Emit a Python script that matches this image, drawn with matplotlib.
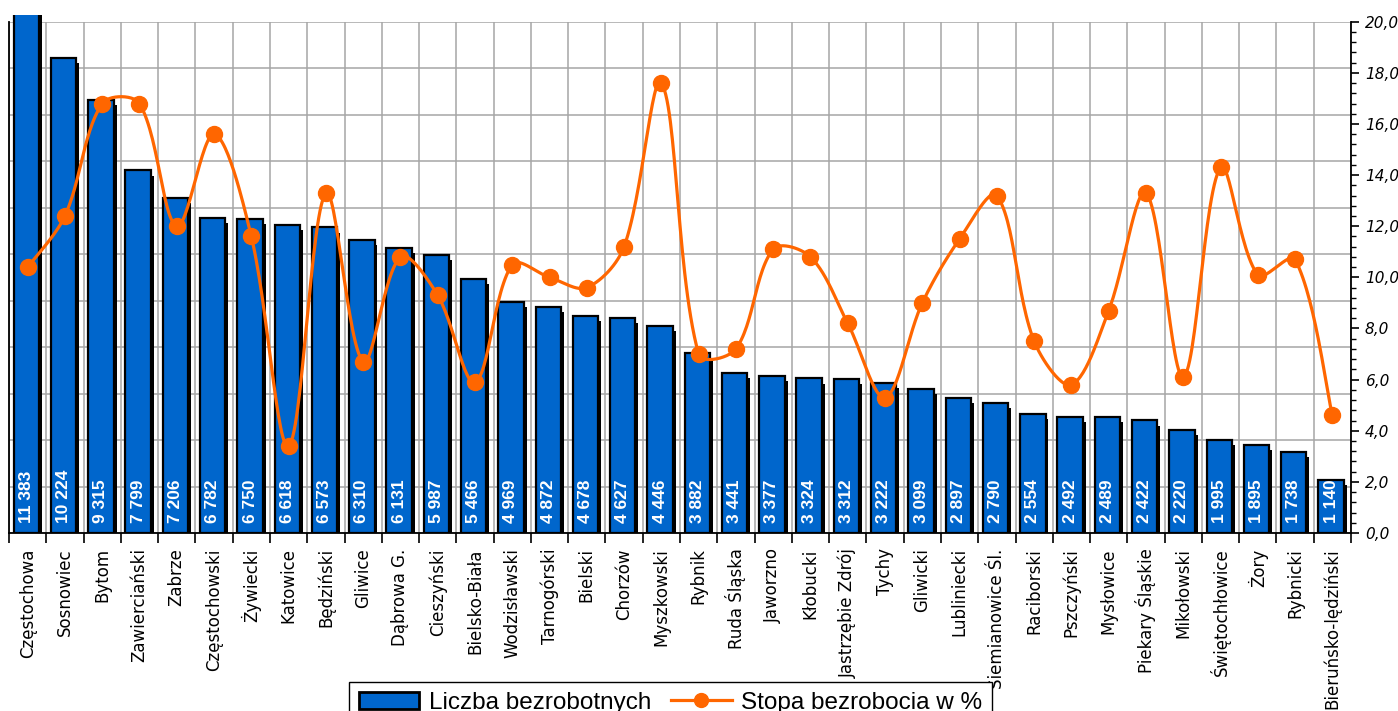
import matplotlib
matplotlib.use("Agg")
import matplotlib.pyplot as plt
from matplotlib.patches import Rectangle, Patch
from matplotlib.lines import Line2D
from matplotlib.ticker import MultipleLocator, FuncFormatter
import numpy as np

# dane: powiaty / miasta, liczba bezrobotnych, stopa bezrobocia w %
powiaty = ["Częstochowa", "Sosnowiec", "Bytom", "Zawierciański", "Zabrze",
           "Częstochowski", "Żywiecki", "Katowice", "Będziński", "Gliwice",
           "Dąbrowa G.", "Cieszyński", "Bielsko-Biała", "Wodzisławski",
           "Tarnogórski", "Bielski", "Chorzów", "Myszkowski", "Rybnik",
           "Ruda Śląska", "Jaworzno", "Kłobucki", "Jastrzębie Zdrój", "Tychy",
           "Gliwicki", "Lubliniecki", "Siemianowice Śl.", "Raciborski",
           "Pszczyński", "Mysłowice", "Piekary Śląskie", "Mikołowski",
           "Świętochłowice", "Żory", "Rybnicki", "Bieruńsko-lędziński"]
bezrobotni = [11383, 10224, 9315, 7799, 7206, 6782, 6750, 6618, 6573, 6310,
              6131, 5987, 5466, 4969, 4872, 4678, 4627, 4446, 3882, 3441,
              3377, 3324, 3312, 3222, 3099, 2897, 2790, 2554, 2492, 2489,
              2422, 2220, 1995, 1895, 1738, 1140]
stopa = [10.4, 12.4, 16.8, 16.8, 12.0, 15.6, 11.6, 3.4, 13.3, 6.7,
         10.8, 9.3, 5.9, 10.5, 10.0, 9.6, 11.2, 17.6, 7.0, 7.2,
         11.1, 10.8, 8.2, 5.3, 9.0, 11.5, 13.2, 7.5, 5.8, 8.7,
         13.3, 6.1, 14.3, 10.1, 10.7, 4.6]

BLUE = "#0066CC"
ORANGE = "#FF6600"


def smooth(xs, ys, sx, sy, n=30):
    # wygladzona linia w stylu Excela: Bezier, styczne skalowane dlugoscia odcinkow
    # sx, sy - piksele na jednostke (zeby liczyc odleglosci na ekranie)
    P = np.column_stack([np.asarray(xs, float) * sx, np.asarray(ys, float) * sy])
    m = len(P)
    d = np.hypot(*(P[1:] - P[:-1]).T)
    out = []
    t = np.linspace(0, 1, n)[:, None]
    for i in range(m - 1):
        p0, p3 = P[i], P[i + 1]
        if i == 0:
            c1 = p0 + (p3 - p0) / 6.0
        else:
            T = P[i + 1] - P[i - 1]
            c1 = p0 + T * d[i] / (d[i - 1] + d[i]) / 3.0
        if i + 2 >= m:
            c2 = p3 - (p3 - p0) / 6.0
        else:
            T = P[i + 2] - P[i]
            c2 = p3 - T * d[i] / (d[i] + d[i + 1]) / 3.0
        seg = (1 - t) ** 3 * p0 + 3 * (1 - t) ** 2 * t * c1 \
            + 3 * (1 - t) * t ** 2 * c2 + t ** 3 * p3
        out.append(seg)
    out = np.vstack(out)
    return out[:, 0] / sx, out[:, 1] / sy


fig = plt.figure(figsize=(13.98, 7.11), dpi=100)
ax = fig.add_axes([9 / 1398, 1 - 533 / 711, (1351 - 9) / 1398, (533 - 21.7) / 711])
ax2 = ax.twinx()

x = np.arange(len(powiaty))
n = len(powiaty)

# cien slupkow
shadow = ax.bar(x + 0.045, [v - 110 for v in bezrobotni], width=0.68,
                color="black", edgecolor="black", linewidth=0, zorder=2)
bars = ax.bar(x - 0.035, bezrobotni, width=0.68, color=BLUE,
              edgecolor="black", linewidth=1.6, zorder=3)
clip = Rectangle((0, 0), 1, 1.013, transform=ax.transAxes)
for b in list(bars) + list(shadow):
    b.set_clip_path(clip)

for xi, v in zip(x, bezrobotni):
    ax.annotate(f"{v:,}".replace(",", " "), xy=(xi - 0.035, 0),
                xytext=(0, 7), textcoords="offset points",
                rotation=90, ha="center", va="bottom", color="white",
                fontsize=12.5, fontweight="bold", family="Liberation Sans",
                zorder=4)

ax.set_xlim(-0.5, n - 0.5)
ax.set_ylim(0, 11000)
ax.yaxis.set_major_locator(MultipleLocator(1000))
ax.tick_params(axis="y", left=False, labelleft=False, right=False)
ax.set_xticks(x)
ax.set_xticklabels(powiaty, rotation=90, fontsize=12, family="DejaVu Sans")
ax.set_xticks(np.arange(-0.5, n, 1.0), minor=True)
ax.tick_params(axis="x", which="major", length=0, pad=11)
ax.tick_params(axis="x", which="minor", length=7, width=1.2, color="black")
ax.grid(True, which="minor", axis="x", color="#a6a6a6", linewidth=1.1)
ax.grid(True, which="major", axis="y", color="#a6a6a6", linewidth=1.1)
ax.set_axisbelow(True)
for s in ["top", "right"]:
    ax.spines[s].set_visible(False)
ax.spines["left"].set_linewidth(1.3)
ax.spines["bottom"].set_linewidth(1.3)

# stopa bezrobocia - os prawa
px_cat = (1351 - 9) / n
px_unit = (533 - 21.7) / 20
lx, ly = smooth(x, stopa, px_cat, px_unit)
ax2.plot(lx, ly, color=ORANGE, linewidth=2.3, zorder=5)
ax2.plot(x, stopa, linestyle="none", marker="o", markersize=11.5,
         color=ORANGE, zorder=6)
ax2.set_ylim(0, 20)
ax2.yaxis.set_major_locator(MultipleLocator(2))
ax2.yaxis.set_minor_locator(MultipleLocator(0.4))
ax2.yaxis.set_major_formatter(FuncFormatter(lambda v, p: f"{v:.1f}".replace(".", ",")))
ax2.tick_params(axis="y", which="major", length=6, width=1.2, pad=4,
                labelsize=11)
ax2.tick_params(axis="y", which="minor", length=3.5, width=1.0)
for lab in ax2.get_yticklabels():
    lab.set_fontstyle("italic")
for s in ["top", "left", "bottom"]:
    ax2.spines[s].set_visible(False)
ax2.spines["right"].set_linewidth(1.3)

# legenda
h1 = Patch(facecolor=BLUE, edgecolor="black", linewidth=2)
h2 = Line2D([], [], color=ORANGE, linewidth=2.3, marker="o", markersize=10)
leg = fig.legend([h1, h2], ["Liczba bezrobotnych", "Stopa bezrobocia w %"],
                 loc="upper center", bbox_to_anchor=(670.5 / 1398, 1 - 682 / 711),
                 ncol=2, frameon=True, fancybox=False, framealpha=1,
                 edgecolor="black", handlelength=2.5, handletextpad=0.4,
                 columnspacing=0.8, borderpad=0.4, borderaxespad=0,
                 prop={"family": "Liberation Sans", "size": 17.5})
leg.get_frame().set_linewidth(1.0)
leg.set_zorder(10)

fig.savefig("out.png", dpi=100)
